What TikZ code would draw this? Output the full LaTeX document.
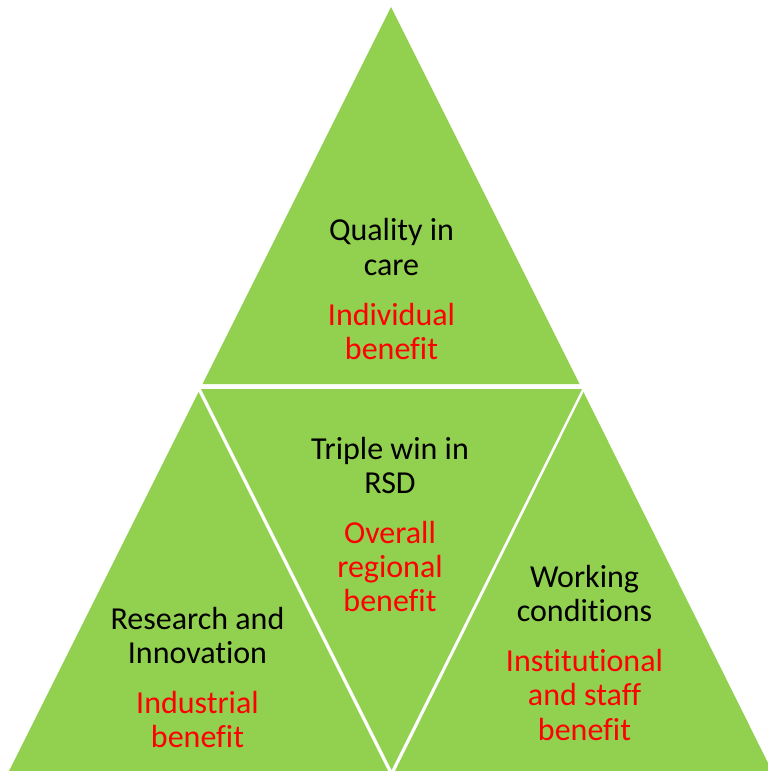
\documentclass[tikz,border=0pt]{standalone}
\usepackage{fontspec}
\setmainfont{Carlito}[Ligatures=NoCommon]
\definecolor{leaf}{HTML}{92D050}
\definecolor{benefitred}{HTML}{FF0000}
\begin{document}
\begin{tikzpicture}[x=1pt,y=-1pt,
  tri/.style={fill=leaf,draw=none},
  lbl/.style={anchor=base,inner sep=0pt,font=\fontsize{32}{35}\selectfont},
  head/.style={lbl,text=black},
  gain/.style={lbl,text=benefitred}]
  % canvas
  \fill[white] (0,0) rectangle (768,771);
  \useasboundingbox (0,0) rectangle (768,771);
  \begin{scope}
    \clip (0,0) rectangle (768,771);
    % four triangles of the pyramid
    \fill[tri] (391,7) -- (202.5,384) -- (579.5,384) -- cycle;
    \fill[tri] (201,389) -- (582,389) -- (391.5,770) -- cycle;
    \fill[tri] (198.5,392) -- (9,771) -- (388,771) -- cycle;
    \fill[tri] (583.5,392) -- (395,771) -- (772,771) -- cycle;
  \end{scope}
  % top: quality in care
  \node[head] (t1) at (391.5,240) {Quality in};
  \node[head] (t2) at (391.5,275) {care};
  \node[gain] (t3) at (391.5,325) {Individual};
  \node[gain] (t4) at (391.5,359) {benefit};
  % centre: triple win
  \node[head] (m1) at (390,459) {Triple win in};
  \node[head] (m2) at (390,493) {RSD};
  \node[gain] (m3) at (390,543) {Overall};
  \node[gain] (m4) at (390,577) {regional};
  \node[gain] (m5) at (390,611) {benefit};
  % left: research and innovation
  \node[head] (l1) at (197.5,629) {Research and};
  \node[head] (l2) at (197.5,663) {Innovation};
  \node[gain] (l3) at (197.5,713) {Industrial};
  \node[gain] (l4) at (197.5,747) {benefit};
  % right: working conditions
  \node[head] (r1) at (584.5,587) {Working};
  \node[head] (r2) at (584.5,621) {conditions};
  \node[gain] (r3) at (584.5,671) {Institutional};
  \node[gain] (r4) at (584.5,705) {and staff};
  \node[gain] (r5) at (584.5,740) {benefit};
\end{tikzpicture}
\end{document}
